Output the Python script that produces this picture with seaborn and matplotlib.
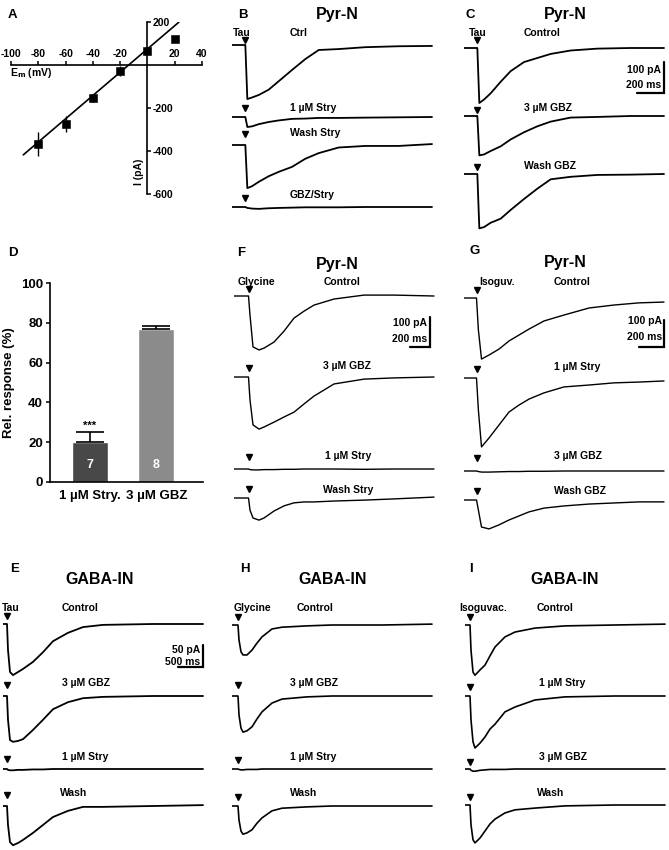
import numpy as np
import pandas as pd
import matplotlib
matplotlib.use('Agg')
import matplotlib.pyplot as plt
import seaborn as sns

sns.set_theme(style='white')
plt.rcParams['font.family'] = ['Liberation Sans', 'DejaVu Sans']
plt.rcParams['font.weight'] = 'bold'
plt.rcParams['axes.labelweight'] = 'bold'
plt.rcParams['axes.edgecolor'] = 'black'
plt.rcParams['axes.labelcolor'] = 'black'
plt.rcParams['text.color'] = 'black'
plt.rcParams['xtick.color'] = 'black'
plt.rcParams['ytick.color'] = 'black'
plt.rcParams['axes.unicode_minus'] = False

W, H = 669, 850

# ---------------- data ----------------
# A: current-voltage relation (mV, pA)
iv_mv = [-80, -60, -40, -20, 0, 20]
iv_pa = [-367, -274, -153, -28, 66, 121]
iv_err = [56, 37, 19, 25, 5, 0]
fit_mv = [-91, 23]
fit_pa = [-418, 199]

# D: relative response (%)
d_labels = ['1 µM Stry.', '3 µM GBZ']
d_vals = [20, 77]
d_err = [5, 1.5]
d_n = ['7', '8']

# B/C: Pyr-N, taurine (ms / pA relative to baseline)
t_BC = [0, 100, 115, 150, 200, 275, 350, 450, 550, 650, 800, 1000, 1250, 1500]
B_ctrl = [0, 0, -173, -168, -160, -143, -116, -80, -45, -16, -13, -7, -4, -3]
B_stry = [0, 0, -32, -30, -23, -16, -11, -6, -5, -3, -3, -2, -1, 0]
B_wash = [0, 0, -138, -132, -118, -100, -86, -70, -44, -26, -8, -3, -3, 3]
B_gbzstry = [0, 0, -3, -5, -6, -4, -3, -2, -1, -1, -1, 0, 0, 0]
C_ctrl = [0, 0, -176, -165, -145, -108, -74, -45, -32, -19, -8, -2, 0, 0]
C_gbz = [0, 0, -126, -123, -112, -97, -75, -52, -33, -18, -5, -3, 0, 0]
C_wash = [0, 0, -174, -170, -156, -143, -115, -80, -47, -17, -9, -3, -2, 0]

# F: Pyr-N, glycine
t_F = [0, 145, 160, 190, 250, 300, 400, 500, 600, 700, 800, 1000, 1300, 1600, 2000]
F_ctrl = [0, 0, -63, -168, -178, -172, -152, -116, -73, -50, -30, -10, 3, 3, 0]
F_gbz = [0, 0, -76, -158, -172, -165, -149, -132, -116, -89, -63, -23, -7, -3, 0]
F_stry = [0, 0, -2, -3, -3, -2, -2, -1, -1, 0, 0, 0, -1, 0, 0]
F_wash = [0, 0, -40, -66, -73, -66, -43, -26, -16, -13, -13, -10, -7, -3, 3]

# G: Pyr-N, isoguvacine
t_G = [0, 100, 115, 140, 200, 280, 360, 440, 520, 640, 800, 1000, 1200, 1400, 1600]
G_ctrl = [0, 0, -118, -226, -211, -189, -159, -137, -115, -85, -63, -37, -26, -18, -15]
G_stry = [0, 0, -118, -255, -222, -174, -126, -100, -78, -55, -33, -26, -18, -15, -11]
G_gbz = [0, 0, -2, -4, -4, -3, -2, -2, -1, -1, 0, 0, 0, 0, 0]
G_wash = [0, 0, -37, -100, -107, -92, -74, -59, -44, -30, -22, -15, -11, -7, -7]

# E: GABA-IN, taurine
t_E = [0, 80, 100, 140, 200, 300, 400, 600, 800, 1000, 1300, 1600, 2000, 3000, 4000]
E_ctrl = [0, 0, -59, -109, -116, -109, -102, -86, -64, -39, -20, -7, -2, 0, 0]
E_gbz = [0, 0, -54, -100, -104, -102, -98, -77, -54, -30, -14, -5, -2, 0, 0]
E_stry = [0, 0, -2, -3, -3, -2, -2, -1, -1, 0, 0, 0, 0, 0, 0]
E_wash = [0, 0, -43, -82, -89, -84, -77, -61, -43, -25, -11, -2, -2, 0, 2]

# H: GABA-IN, glycine
t_H = [0, 120, 140, 180, 220, 300, 400, 500, 600, 800, 1000, 1500, 2000, 3000, 4000]
H_ctrl = [0, 0, -34, -61, -68, -68, -57, -41, -27, -9, -5, -2, 0, 0, 2]
H_gbz = [0, 0, -43, -73, -82, -79, -70, -52, -36, -16, -7, -2, 0, 0, 0]
H_stry = [0, 0, -1, -2, -2, -1, -1, -1, 0, 0, 0, 0, 0, 0, 0]
H_wash = [0, 0, -32, -57, -64, -61, -54, -39, -27, -11, -5, -2, 0, 0, 0]

# I: GABA-IN, isoguvacine
t_I = [0, 100, 120, 160, 200, 300, 400, 500, 600, 800, 1000, 1400, 2000, 3000, 4000]
I_ctrl = [0, 0, -57, -107, -114, -102, -91, -70, -50, -27, -16, -7, -2, 0, 2]
I_stry = [0, 0, -54, -104, -118, -107, -93, -75, -64, -36, -25, -9, -2, 0, 0]
I_gbz = [0, 0, -3, -5, -5, -3, -2, -1, -1, -1, 0, 0, 0, 0, 0]
I_wash = [0, 0, -45, -79, -86, -75, -59, -43, -32, -18, -11, -7, -2, 0, 0]


# ---------------- helpers ----------------
def rect(x0, y0, x1, y1):
    return [x0 / W, 1 - y1 / H, (x1 - x0) / W, (y1 - y0) / H]


def ftext(x, y, s, size=7.5, ha='left', **kw):
    fig.text(x / W, 1 - y / H, s, fontsize=size, ha=ha, va='center', fontweight='bold', **kw)


def trace_panel(x0, top, bottom, ms_px, pa_px, t, traces, baselines, arrows,
                scalebar=None, lw=1.0):
    ax = fig.add_axes(rect(x0, top, x0 + 205, bottom))
    ax.set_facecolor('none')
    for cur, base in zip(traces, baselines):
        off = -(base - top) * pa_px
        df = pd.DataFrame({'t': t, 'i': np.asarray(cur, dtype=float) + off})
        sns.lineplot(data=df, x='t', y='i', ax=ax, color='black', lw=lw,
                     estimator=None, sort=False)
    for ya in arrows:
        ax.plot([t[1]], [-(ya - top) * pa_px], marker='v', ms=5, color='black',
                ls='none', clip_on=False)
    if scalebar is not None:
        cx, cy, len_ms, len_pa = scalebar
        sx = (cx - x0) * ms_px
        sy = -(cy - top) * pa_px
        ax.plot([sx - len_ms, sx, sx], [sy, sy, sy + len_pa], color='black', lw=1.6,
                solid_joinstyle='miter', clip_on=False)
    ax.set_xlim(0, 205 * ms_px)
    ax.set_ylim(-(bottom - top) * pa_px, 0)
    ax.axis('off')
    return ax


fig = plt.figure(figsize=(W / 100, H / 100), dpi=100)

# ---------------- A ----------------
axA = fig.add_axes(rect(11, 22, 202, 194))
axA.set_facecolor('none')
sns.lineplot(x=fit_mv, y=fit_pa, ax=axA, color='black', lw=1.2)
axA.errorbar(iv_mv, iv_pa, yerr=iv_err, fmt='none', ecolor='black', elinewidth=1.0, capsize=0)
sns.scatterplot(x=iv_mv, y=iv_pa, ax=axA, marker='s', color='black', s=28,
                edgecolor='black', zorder=5)
axA.set_xlim(-100, 40)
axA.set_ylim(-600, 200)
axA.spines['bottom'].set_visible(False)
axA.spines['left'].set_visible(False)
axA.spines['top'].set_position(('data', 0))
axA.spines['right'].set_position(('data', 0))
for s in ['top', 'right']:
    axA.spines[s].set_linewidth(1.2)
axA.xaxis.tick_top()
axA.yaxis.tick_right()
axA.set_xticks([-100, -80, -60, -40, -20, 20, 40])
axA.set_yticks([200, -200, -400, -600])
axA.tick_params(direction='out', length=3, width=1.1, labelsize=7.5, pad=1)
ftext(10, 73, r'E$_{\mathbf{m}}$ (mV)')
fig.text(139 / W, 1 - 172 / H, 'I (pA)', rotation=90, fontsize=7.5, ha='center',
         va='center', fontweight='bold')

# ---------------- D ----------------
axD = fig.add_axes(rect(50, 283, 203, 482))
axD.set_facecolor('none')
df_d = pd.DataFrame({'cond': d_labels, 'val': d_vals})
sns.barplot(data=df_d, x='cond', y='val', hue='cond', palette=['#484848', '#8b8b8b'],
            saturation=1, width=0.54, ax=axD, legend=False, errorbar=None)
axD.errorbar(range(len(d_vals)), d_vals, yerr=[[0] * len(d_err), d_err], fmt='none',
             ecolor='black', capsize=10, elinewidth=1.2, capthick=1.2)
for i, (v, e, n) in enumerate(zip(d_vals, d_err, d_n)):
    axD.text(i, 8.5, n, color='white', ha='center', va='center', fontsize=9, fontweight='bold')
axD.text(0, d_vals[0] + d_err[0] + 3, '***', ha='center', va='center', fontsize=8)
axD.set_xlim(-0.6, 1.7)
axD.set_ylim(0, 100)
axD.set_yticks([0, 20, 40, 60, 80, 100])
axD.spines['top'].set_visible(False)
axD.spines['right'].set_visible(False)
axD.spines['left'].set_linewidth(1.2)
axD.spines['bottom'].set_linewidth(1.2)
axD.tick_params(axis='y', direction='out', length=3, width=1.1, labelsize=9.5, pad=2, left=True)
axD.tick_params(axis='x', length=0, labelsize=9.5, pad=6)
axD.set_xlabel('')
axD.set_ylabel('Rel. response (%)', fontsize=9.5, labelpad=4)

# ---------------- trace panels ----------------
trace_panel(232, 20, 220, 7.5, 3.2, t_BC, [B_ctrl, B_stry, B_wash, B_gbzstry],
            [45, 117, 145, 207], [40, 108, 134, 198], lw=1.3)
trace_panel(464, 20, 240, 7.5, 3.2, t_BC, [C_ctrl, C_gbz, C_wash],
            [48, 116, 174], [40, 110, 167], scalebar=(664, 93, 200, 100), lw=1.3)
trace_panel(234, 270, 530, 10, 3.3, t_F, [F_ctrl, F_gbz, F_stry, F_wash],
            [296, 377, 469, 498], [289, 368, 457, 489], scalebar=(430, 347, 200, 100))
trace_panel(464, 270, 530, 8, 3.7, t_G, [G_ctrl, G_stry, G_gbz, G_wash],
            [298, 378, 471, 500], [290, 369, 458, 491], scalebar=(664, 347, 200, 100))
trace_panel(3, 600, 850, 20, 2.27, t_E, [E_ctrl, E_gbz, E_stry, E_wash],
            [624, 696, 769, 806], [616, 685, 759, 795], scalebar=(203, 667, 500, 50), lw=1.3)
trace_panel(232, 600, 850, 20, 2.27, t_H, [H_ctrl, H_gbz, H_stry, H_wash],
            [625, 696, 769, 806], [617, 685, 760, 797], lw=1.2)
trace_panel(465, 600, 850, 20, 2.27, t_I, [I_ctrl, I_stry, I_gbz, I_wash],
            [625, 696, 769, 805], [617, 687, 762, 797], lw=1.2)

# ---------------- texts ----------------
for letter, x, y in [('A', 8, 15), ('B', 238, 15), ('C', 465, 15), ('D', 8, 253),
                     ('F', 237, 253), ('G', 469, 251), ('E', 10, 569), ('H', 240, 569),
                     ('I', 469, 569)]:
    ftext(x, y, letter, size=9.5)

for title, x, y in [('Pyr-N', 337, 15), ('Pyr-N', 565, 15), ('Pyr-N', 337, 265),
                    ('Pyr-N', 565, 263), ('GABA-IN', 100, 579), ('GABA-IN', 333, 579),
                    ('GABA-IN', 565, 579)]:
    ftext(x, y, title, size=11.5, ha='center')

# agonist labels
ftext(242, 33, 'Tau', ha='center')
ftext(478, 33, 'Tau', ha='center')
ftext(256, 282, 'Glycine', ha='center')
ftext(479, 282, 'Isoguv.')
ftext(11, 608, 'Tau', ha='center')
ftext(252, 608, 'Glycine', ha='center')
ftext(483, 608, 'Isoguvac.', ha='center')

# condition labels
cond_labels = [
    ('Ctrl', 290, 33), ('1 µM Stry', 290, 108), ('Wash Stry', 290, 133), ('GBZ/Stry', 290, 195),
    ('Control', 524, 33), ('3 µM GBZ', 524, 108), ('Wash GBZ', 524, 166),
    ('Control', 324, 282), ('3 µM GBZ', 323, 366), ('1 µM Stry', 325, 456), ('Wash Stry', 323, 490),
    ('Control', 554, 282), ('1 µM Stry', 554, 367), ('3 µM GBZ', 554, 456), ('Wash GBZ', 554, 491),
    ('Control', 62, 608), ('3 µM GBZ', 62, 683), ('1 µM Stry', 62, 757), ('Wash', 60, 793),
    ('Control', 297, 608), ('3 µM GBZ', 290, 683), ('1 µM Stry', 290, 757), ('Wash', 290, 793),
    ('Control', 537, 608), ('1 µM Stry', 539, 683), ('3 µM GBZ', 539, 757), ('Wash', 537, 793),
]
for s, x, y in cond_labels:
    ftext(x, y, s)

# scale bar labels
for s, x, y in [('100 pA', 661, 70), ('200 ms', 661, 85), ('100 pA', 427, 323),
                ('200 ms', 427, 339), ('100 pA', 662, 321), ('200 ms', 662, 337),
                ('50 pA', 200, 650), ('500 ms', 200, 662)]:
    ftext(x, y, s, ha='right')

fig.savefig('out.png', dpi=100)
